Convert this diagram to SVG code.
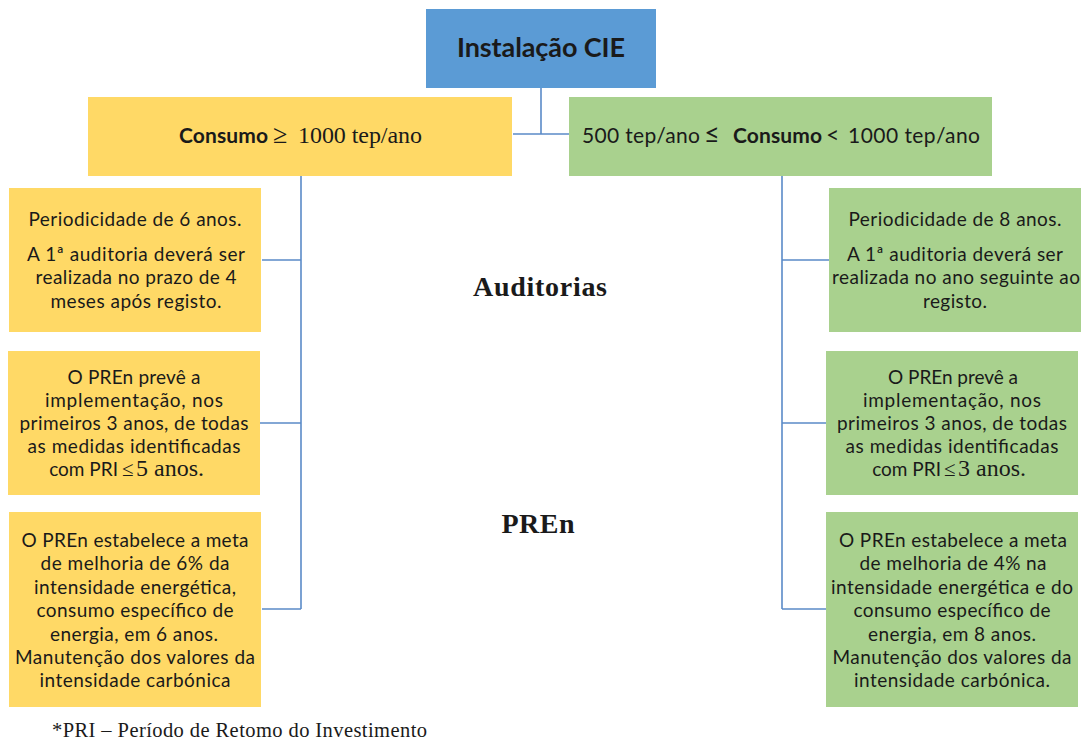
<svg xmlns="http://www.w3.org/2000/svg" width="1086" height="742" viewBox="0 0 1086 742">
<style>
.bg{fill:#ffffff}
.blue{fill:#5B9BD5}
.yel{fill:#FFD966}
.grn{fill:#A9D18E}
.ln{stroke:#5B8BC8;stroke-width:1.6;fill:none}
.s{font-family:Lato,"Open Sans","Liberation Sans",sans-serif;font-size:19px;fill:#1a1a1a}
.c{text-anchor:middle}
.e{text-anchor:end}
.b{font-weight:bold}
.h{font-size:21px}
.t{font-family:"Liberation Serif","Times New Roman",serif;fill:#1a1a1a}
</style>
<rect class="bg" x="0" y="0" width="1086" height="742"/>
<g id="connectors">
<path class="ln" d="M541 88V134M513 134H569"/>
<path class="ln" d="M301 176V609M262 260H301M260 423H301M262 609H301"/>
<path class="ln" d="M782 176V609M782 260H829M782 423H826M782 609H826"/>
</g>
<g id="root">
<rect class="blue" x="426" y="9" width="230" height="79"/>
<text class="s c b" x="541" y="57" style="font-size:27px" textLength="168">Instalação CIE</text>
</g>
<g id="left-header">
<rect class="yel" x="88" y="97" width="424" height="79"/>
<text class="s b h" x="179" y="143" textLength="89">Consumo</text>
<text class="t" x="273" y="143" style="font-size:26px">≥</text>
<text class="t" x="298" y="143" style="font-size:24px" textLength="124">1000 tep/ano</text>
</g>
<g id="right-header">
<rect class="grn" x="569" y="97" width="423" height="79"/>
<text class="s h" x="582" y="143" textLength="118">500 tep/ano</text>
<text class="s" x="704" y="143" style="font-size:27px">≤</text>
<text class="s b h" x="733" y="143" textLength="89">Consumo</text>
<text class="s" x="826" y="143" style="font-size:23px">&lt;</text>
<text class="s h" x="848" y="143" textLength="132">1000 tep/ano</text>
</g>
<g id="label-auditorias">
<text class="t b c" x="540" y="296" style="font-size:28px" textLength="134">Auditorias</text>
</g>
<g id="label-pren">
<text class="t b c" x="538" y="533" style="font-size:28px" textLength="73">PREn</text>
</g>
<g id="left-audit">
<rect class="yel" x="9" y="188" width="252" height="144"/>
<text class="s c" x="135" y="226" textLength="213">Periodicidade de 6 anos.</text>
<text class="s c" x="136" y="261" textLength="218">A 1ª auditoria deverá ser</text>
<text class="s c" x="136" y="284" textLength="201">realizada no prazo de 4</text>
<text class="s c" x="136" y="308" textLength="171">meses após registo.</text>
</g>
<g id="right-audit">
<rect class="grn" x="829" y="188" width="252" height="144"/>
<text class="s c" x="955" y="226" textLength="213">Periodicidade de 8 anos.</text>
<text class="s c" x="955" y="261" textLength="216">A 1ª auditoria deverá ser</text>
<text class="s c" x="956" y="284" textLength="248">realizada no ano seguinte ao</text>
<text class="s c" x="955" y="308" textLength="64">registo.</text>
</g>
<g id="left-pren1">
<rect class="yel" x="8" y="351" width="252" height="144"/>
<text class="s c" x="134" y="384" textLength="133">O PREn prevê a</text>
<text class="s c" x="134" y="407" textLength="178">implementação, nos</text>
<text class="s c" x="134" y="430" textLength="229">primeiros 3 anos, de todas</text>
<text class="s c" x="134" y="453" textLength="213">as medidas identificadas</text>
<text class="s e" x="118" y="476">com PRI</text>
<text class="t" x="122" y="476" style="font-size:21px">≤</text>
<text class="t" x="136" y="476" style="font-size:24px">5 anos.</text>
</g>
<g id="right-pren1">
<rect class="grn" x="826" y="351" width="252" height="144"/>
<text class="s c" x="953" y="384" textLength="130">O PREn prevê a</text>
<text class="s c" x="952" y="407" textLength="178">implementação, nos</text>
<text class="s c" x="952" y="430" textLength="230">primeiros 3 anos, de todas</text>
<text class="s c" x="952" y="453" textLength="213">as medidas identificadas</text>
<text class="s e" x="941" y="476">com PRI</text>
<text class="t" x="944" y="476" style="font-size:21px">≤</text>
<text class="t" x="958" y="476" style="font-size:24px">3 anos.</text>
</g>
<g id="left-pren2">
<rect class="yel" x="9" y="512" width="252" height="195"/>
<text class="s c" x="135" y="547" textLength="227">O PREn estabelece a meta</text>
<text class="s c" x="135" y="570" textLength="189">de melhoria de 6% da</text>
<text class="s c" x="135" y="594" textLength="202">intensidade energética,</text>
<text class="s c" x="135" y="617" textLength="197">consumo específico de</text>
<text class="s c" x="134" y="641" textLength="168">energia, em 6 anos.</text>
<text class="s c" x="135" y="664" textLength="240">Manutenção dos valores da</text>
<text class="s c" x="135" y="687" textLength="191">intensidade carbónica</text>
</g>
<g id="right-pren2">
<rect class="grn" x="826" y="512" width="252" height="195"/>
<text class="s c" x="953" y="547" textLength="228">O PREn estabelece a meta</text>
<text class="s c" x="953" y="570" textLength="187">de melhoria de 4% na</text>
<text class="s c" x="952" y="594" textLength="242">intensidade energética e do</text>
<text class="s c" x="952" y="617" textLength="197">consumo específico de</text>
<text class="s c" x="952" y="641" textLength="168">energia, em 8 anos.</text>
<text class="s c" x="952" y="664" textLength="239">Manutenção dos valores da</text>
<text class="s c" x="952" y="687" textLength="196">intensidade carbónica.</text>
</g>
<g id="footnote">
<text class="t" x="52" y="737" style="font-size:20.5px" textLength="375">*PRI – Período de Retomo do Investimento</text>
</g>
</svg>
